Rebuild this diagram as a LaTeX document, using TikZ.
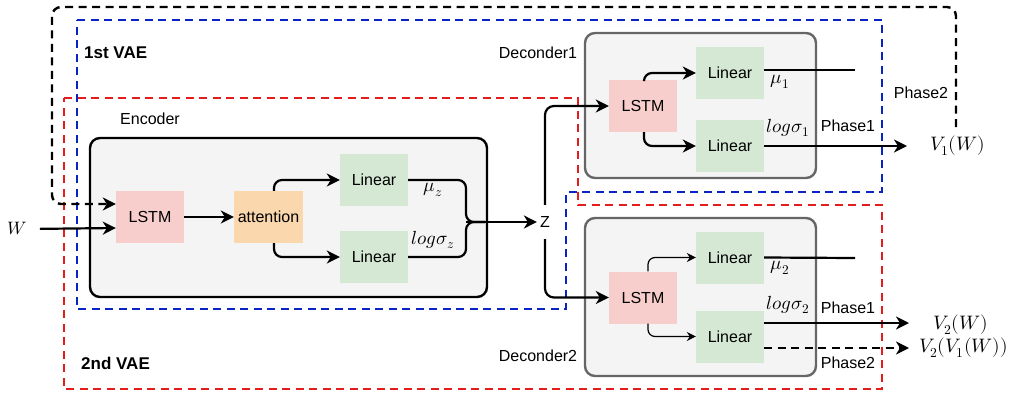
\documentclass[tikz,border=0pt]{standalone}
\usepackage{fontspec}
\usepackage{unicode-math}
\setmainfont{Liberation Sans}
\setmathfont{Latin Modern Math}
\usetikzlibrary{arrows.meta}
\definecolor{vblue}{HTML}{0A24C4}
\definecolor{vred}{HTML}{E51C1C}
\definecolor{lstmc}{HTML}{F8CECC}
\definecolor{linc}{HTML}{D5E8D4}
\definecolor{attc}{HTML}{FAD7AC}
\definecolor{boxc}{HTML}{F4F4F4}
\definecolor{boxe}{HTML}{666666}
\begin{document}
\begin{tikzpicture}[x=1pt,y=-1pt,
  sf/.style={font=\fontsize{16}{19}\selectfont},
  mf/.style={font=\fontsize{19}{22}\selectfont},
  vf/.style={font=\fontsize{19.5}{23}\selectfont},
  blk/.style={sf,minimum width=68pt,minimum height=52pt,inner sep=0pt},
  lstmbox/.style={blk,fill=lstmc},
  linbox/.style={blk,fill=linc},
  attbox/.style={blk,fill=attc,minimum width=69pt},
  region/.style={line width=2.4pt,dash pattern=on 8pt off 5.5pt},
  conn/.style={line width=2.2pt,-{Stealth[length=13pt,width=13pt,inset=4pt]}},
  thinconn/.style={line width=1.2pt,-{Stealth[length=9pt,width=9pt,inset=3pt]}},
  plain/.style={line width=2.2pt},
  encbox/.style={draw=black,line width=2.4pt,fill=boxc,rounded corners=10pt,inner sep=0pt},
  decbox/.style={draw=boxe,line width=2.4pt,fill=boxc,rounded corners=10pt,inner sep=0pt},
  vaelabel/.style={font=\fontsize{17}{20}\selectfont\bfseries,anchor=west,inner sep=0pt}
]
\useasboundingbox (0,0) rectangle (1010,397);

% regions
\draw[region,vblue] (77,20) -- (882,20) -- (882,192) -- (566,192) -- (566,309) -- (77,309) -- cycle;
\draw[region,vred] (64,98) -- (578,98) -- (578,205) -- (882,205) -- (882,389) -- (64,389) -- cycle;

% container boxes
\node[encbox,minimum width=397pt,minimum height=159pt] (enc) at (288.5,217.5) {};
\node[decbox,minimum width=231pt,minimum height=145pt] (dec1) at (700.5,105.5) {};
\node[decbox,minimum width=231pt,minimum height=158pt] (dec2) at (700.5,297) {};

% labels
\node[vaelabel] (l1) at (84,53) {1st VAE};
\node[vaelabel] (l2) at (81,363) {2nd VAE};
\node[sf] (encl) at (150,119) {Encoder};
\node[sf] (d1l) at (538,53) {Deconder1};
\node[sf] (d2l) at (538,356) {Deconder2};

% encoder blocks
\node[lstmbox] (lstmE) at (150,217) {LSTM};
\node[attbox] (att) at (268.5,217) {attention};
\node[linbox] (linE1) at (374,180) {Linear};
\node[linbox] (linE2) at (374,257) {Linear};
\node[mf] (muz) at (433,190) {$\mu_z$};
\node[mf] (lsz) at (433,240) {$log\sigma_z$};

% decoder 1
\node[lstmbox] (lstmD1) at (643,106) {LSTM};
\node[linbox] (linD1a) at (730,73) {Linear};
\node[linbox] (linD1b) at (730,146) {Linear};
\node[mf] (mu1) at (780,82) {$\mu_1$};
\node[mf] (ls1) at (788,128) {$log\sigma_1$};
\node[sf] (ph11) at (848,126) {Phase1};
\node[sf] (ph12) at (921,93) {Phase2};

% decoder 2
\node[lstmbox] (lstmD2) at (643,297.5) {LSTM};
\node[linbox] (linD2a) at (730,257.5) {Linear};
\node[linbox] (linD2b) at (730,336.5) {Linear};
\node[mf] (mu2) at (780,268) {$\mu_2$};
\node[mf] (ls2) at (788,305) {$log\sigma_2$};
\node[sf] (ph21) at (848,308) {Phase1};
\node[sf] (ph22) at (848,363) {Phase2};

% inputs / outputs
\node[font=\fontsize{18}{21}\selectfont,inner sep=0pt] (W) at (17,229) {$W$};
\node[sf,minimum height=34pt,inner sep=0pt] (z) at (545,222) {Z};
\node[vf,anchor=west,inner sep=0pt] (V1) at (930,146) {$V_1(W)$};
\node[vf,anchor=west,inner sep=0pt] (V2) at (933,325) {$V_2(W)$};
\node[vf,anchor=west,inner sep=0pt] (V21) at (919,348) {$V_2(V_1(W))$};

% black dashed feedback path
\coordinate (fbstart) at (956,127);
\draw[region,black,rounded corners=9pt,-{Stealth[length=13pt,width=13pt,inset=4pt]}]
  (fbstart) -- (956,7) -- (52,7) -- (52,204) -- ([yshift=13pt]lstmE.west);

% encoder connectors
\draw[conn,shorten <=13pt] (W.east) -- ([yshift=-11pt]lstmE.west);
\draw[conn] (lstmE.east) -- (att.west);
\draw[conn,rounded corners=8pt] ([xshift=5.5pt]att.north) |- (linE1.west);
\draw[conn,rounded corners=8pt] ([xshift=5.5pt]att.south) |- (linE2.west);
\coordinate (mrg) at (466,222);
\draw[plain,rounded corners=8pt] (linE1.east) -| (mrg) -- (485,222);
\draw[plain,rounded corners=8pt] (linE2.east) -| (mrg) -- (485,222);
\draw[conn,shorten >=3pt] (mrg) -- (z.west);

% z to decoders
\draw[conn,rounded corners=9pt] (z.north) |- (lstmD1.west);
\draw[conn,rounded corners=9pt] (z.south) |- (lstmD2.west);

% decoder 1 connectors
\draw[conn,rounded corners=8pt] ([xshift=1pt]lstmD1.north) |- (linD1a.west);
\draw[conn,rounded corners=8pt] ([xshift=1pt]lstmD1.south) |- (linD1b.west);
\coordinate (mu1end) at (855,70);
\draw[plain] ([yshift=3pt]linD1a.east) -- (mu1end);
\draw[conn,shorten >=23pt] (linD1b.east) -- (V1.west);

% decoder 2 connectors
\draw[thinconn,rounded corners=7pt] ([xshift=5pt]lstmD2.north) |- (linD2a.west);
\draw[thinconn,rounded corners=7pt] ([xshift=5pt]lstmD2.south) |- (linD2b.west);
\coordinate (mu2end) at (855,258);
\draw[plain] (linD2a.east) -- (mu2end);
\draw[conn,shorten >=24pt] ([yshift=13.5pt]linD2b.east) -- (V2.west |- 0,323);
\draw[conn,dash pattern=on 8pt off 5.5pt,shorten >=10pt] ([yshift=-11.5pt]linD2b.east) -- (V21.west);
\end{tikzpicture}
\end{document}
